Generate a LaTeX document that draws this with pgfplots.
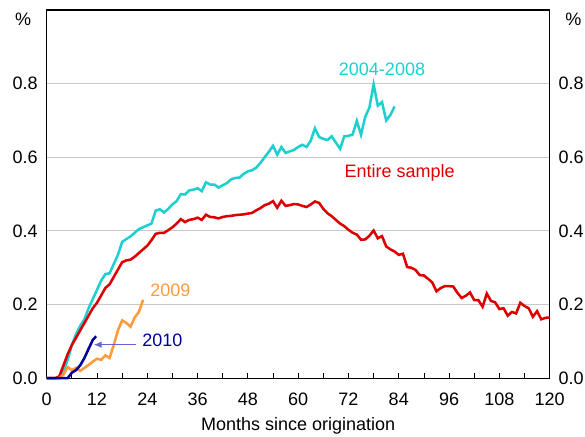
\documentclass[border=0pt]{standalone}
\usepackage{fontspec}
\setmainfont{Liberation Sans}
\usepackage{pgfplots}
\pgfplotsset{compat=1.18}
\usetikzlibrary{arrows.meta}

\definecolor{cyanl}{HTML}{1ECFCF}
\definecolor{redl}{HTML}{DC0000}
\definecolor{orangel}{HTML}{FF9A3C}
\definecolor{navyl}{HTML}{00009A}
\definecolor{arrowc}{HTML}{6464D2}
\definecolor{gridc}{HTML}{C8C8C8}

\begin{document}
\fontsize{13.5}{16}\selectfont
\begin{tikzpicture}
\pgfplotsset{
  base/.style={
    width=377pt, height=276pt, scale only axis,
    xmin=0, xmax=120, ymin=0, ymax=1,
    /pgf/number format/assume math mode=true,
    tick label style={font=\fontsize{13.5}{16}\selectfont},
    label style={font=\fontsize{13.5}{16}\selectfont},
  },
  yfmt/.style={
    /pgf/number format/fixed,
    /pgf/number format/precision=1,
    /pgf/number format/fixed zerofill,
  }
}
\begin{axis}[base, name=main,
  xtick={0,12,...,120}, minor xtick={6,18,...,114},
  ytick={0,0.2,...,0.8},
  yticklabel style={yfmt, xshift=-2pt},
  xtick pos=bottom, ytick pos=left,
  xtick align=inside,
  major tick length=4pt, minor tick length=4pt,
  y tick style={draw=none},
  ymajorgrids, grid style={gridc, line width=0.75pt},
  axis line style={line width=0.8pt},
  x tick style={black, line width=0.6pt},
  xlabel={Months since origination},
  xlabel style={yshift=0pt},
  xticklabel style={yshift=-6pt},
  clip=false,
]
% 2004-2008
\addplot[cyanl, line width=1.9pt] coordinates {
(0,0)(1,0)(2,0)(3,0)(4,0.02)(5,0.05)(6,0.09)(7,0.12)(8,0.142)(9,0.16)(10,0.19)
(11,0.215)(12,0.24)(13,0.265)(14,0.283)(15,0.285)(16,0.31)(17,0.335)(18,0.37)(19,0.378)(20,0.385)
(21,0.395)(22,0.405)(23,0.41)(24,0.415)(25,0.42)(26,0.455)(27,0.459)(28,0.45)(29,0.46)(30,0.472)
(31,0.481)(32,0.5)(33,0.499)(34,0.51)(35,0.512)(36,0.516)(37,0.508)(38,0.532)(39,0.526)(40,0.526)
(41,0.518)(42,0.524)(43,0.53)(44,0.54)(45,0.544)(46,0.545)(47,0.555)(48,0.562)(49,0.565)(50,0.572)
(51,0.585)(52,0.6)(53,0.615)(54,0.631)(55,0.607)(56,0.628)(57,0.612)(58,0.616)(59,0.62)(60,0.628)
(61,0.634)(62,0.628)(63,0.645)(64,0.679)(65,0.655)(66,0.65)(67,0.647)(68,0.657)(69,0.64)(70,0.623)
(71,0.657)(72,0.658)(73,0.662)(74,0.699)(75,0.661)(76,0.71)(77,0.735)(78,0.798)(79,0.74)(80,0.75)
(81,0.7)(82,0.715)(83,0.738)};
% Entire sample
\addplot[redl, line width=1.9pt] coordinates {
(0,0)(1,0)(2,0)(3,0.005)(4,0.035)(5,0.065)(6,0.09)(7,0.11)(8,0.13)(9,0.15)(10,0.17)
(11,0.19)(12,0.205)(13,0.225)(14,0.245)(15,0.255)(16,0.275)(17,0.295)(18,0.315)(19,0.32)(20,0.322)
(21,0.33)(22,0.34)(23,0.35)(24,0.36)(25,0.375)(26,0.392)(27,0.395)(28,0.395)(29,0.402)(30,0.41)
(31,0.42)(32,0.432)(33,0.424)(34,0.43)(35,0.432)(36,0.436)(37,0.43)(38,0.444)(39,0.438)(40,0.437)
(41,0.434)(42,0.438)(43,0.44)(44,0.441)(45,0.443)(46,0.444)(47,0.445)(48,0.447)(49,0.449)(50,0.456)
(51,0.462)(52,0.47)(53,0.474)(54,0.481)(55,0.463)(56,0.482)(57,0.468)(58,0.47)(59,0.473)(60,0.472)
(61,0.468)(62,0.465)(63,0.472)(64,0.48)(65,0.476)(66,0.46)(67,0.448)(68,0.44)(69,0.43)(70,0.42)
(71,0.413)(72,0.403)(73,0.395)(74,0.39)(75,0.376)(76,0.377)(77,0.387)(78,0.401)(79,0.38)(80,0.386)
(81,0.358)(82,0.35)(83,0.344)(84,0.335)(85,0.338)(86,0.302)(87,0.3)(88,0.294)(89,0.28)(90,0.279)
(91,0.27)(92,0.26)(93,0.236)(94,0.245)(95,0.25)(96,0.25)(97,0.249)(98,0.232)(99,0.218)(100,0.224)
(101,0.233)(102,0.212)(103,0.212)(104,0.194)(105,0.23)(106,0.21)(107,0.206)(108,0.188)(109,0.19)(110,0.17)
(111,0.18)(112,0.176)(113,0.205)(114,0.196)(115,0.19)(116,0.167)(117,0.182)(118,0.16)(119,0.164)(120,0.165)};
% 2009
\addplot[orangel, line width=1.9pt] coordinates {
(0,0)(3,0)(4,0.01)(5,0.03)(6,0.022)(7,0.028)(8,0.02)(9,0.028)(10,0.036)
(11,0.045)(12,0.053)(13,0.05)(14,0.062)(15,0.055)(16,0.09)(17,0.13)(18,0.157)(19,0.15)(20,0.14)
(21,0.165)(22,0.18)(23,0.213)};
% 2010
\addplot[navyl, line width=1.9pt] coordinates {
(0,0)(5,0)(6,0.015)(7,0.022)(8,0.035)(9,0.055)(10,0.08)(11,0.104)(11.8,0.114)};
% arrow to 2010
\addplot[arrowc, line width=1pt, -{Latex[length=6pt,width=5pt]}] coordinates {(21.2,0.091)(11.2,0.091)};

\node[text=cyanl] at (axis cs:80,0.84) {2004-2008};
\node[text=redl] at (axis cs:84.2,0.559) {Entire sample};
\node[text=orangel] at (axis cs:29.5,0.238) {2009};
\node[text=navyl] at (axis cs:27.6,0.102) {2010};
\node[anchor=east] at ([xshift=-7pt]rel axis cs:0,0.975) {\%};
\node[anchor=west] at ([xshift=7pt]rel axis cs:1,0.975) {\%};
\end{axis}
\begin{axis}[base, at={(main.south west)}, anchor=south west,
  axis x line=none, axis y line*=right,
  axis line style={draw=none},
  ytick={0,0.2,...,0.8}, major tick length=0pt,
  yticklabel style={yfmt, xshift=2pt},
]
\addplot[draw=none] coordinates {(0,0)};
\end{axis}
\pgfresetboundingbox
\path[use as bounding box] ([xshift=-35pt,yshift=-44pt]main.south west) rectangle ([xshift=26.5pt,yshift=7.5pt]main.north east);
\end{tikzpicture}
\end{document}
